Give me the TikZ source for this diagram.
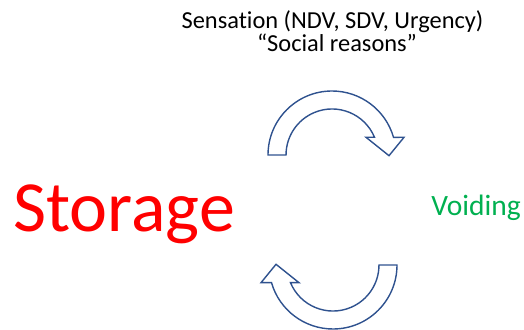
\documentclass[tikz,border=0pt]{standalone}
\usepackage{fontspec}
\setmainfont[Ligatures=NoCommon]{Carlito}
\definecolor{arrowblue}{HTML}{2F528F}
\definecolor{voidgreen}{HTML}{00B050}
\begin{document}
\begin{tikzpicture}[x=1pt,y=1pt,
  lbl/.style={inner sep=0pt,anchor=base},
  cyclearrow/.style={draw=arrowblue,line width=1.4pt,fill=white,line join=miter}]
\useasboundingbox (0,0) rectangle (524,329);
\node[lbl,font=\fontsize{24.4}{28}\selectfont] (sens) at (332.5,300) {Sensation (NDV, SDV, Urgency)};
\node[lbl,font=\fontsize{24.4}{28}\selectfont] (social) at (337,277) {“Social reasons”};
\node[lbl,font=\fontsize{72}{80}\selectfont,text=red] (storage) at (124,97) {Storage};
\node[lbl,font=\fontsize{29.5}{34}\selectfont,text=voidgreen] (voiding) at (476,113) {Voiding};
% top circular arrow
\draw[cyclearrow] (268,174) arc[start angle=180,end angle=16.05,radius=64]
  -- (404,191.7) -- (389,173.3) -- (366,191.7)
  -- (374.5,191.7) arc[start angle=22.6,end angle=180,radius=46] -- cycle;
% bottom circular arrow
\begin{scope}[rotate around={180:(332.5,119)}]
\draw[cyclearrow] (268,174) arc[start angle=180,end angle=16.05,radius=64]
  -- (404,191.7) -- (389,173.3) -- (366,191.7)
  -- (374.5,191.7) arc[start angle=22.6,end angle=180,radius=46] -- cycle;
\end{scope}
\end{tikzpicture}
\end{document}
